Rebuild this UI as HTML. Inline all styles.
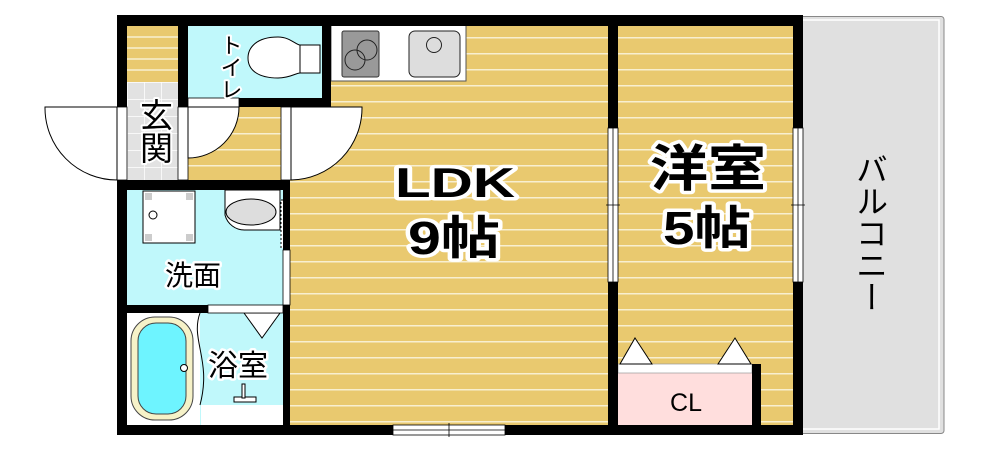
<!DOCTYPE html>
<html><head><meta charset="utf-8"><style>
html,body{margin:0;padding:0;background:#fff;width:987px;height:458px;overflow:hidden}
svg{display:block}
text{font-family:"Liberation Sans","Noto Sans CJK JP",sans-serif}
.h{paint-order:stroke;stroke:#fff;stroke-linejoin:round}
</style></head><body>
<svg width="987" height="458" viewBox="0 0 987 458" xmlns="http://www.w3.org/2000/svg">
<defs>
<pattern id="fl" width="10" height="16" patternUnits="userSpaceOnUse" y="5">
<rect width="10" height="16" fill="#e9c96f"/><rect y="0" width="10" height="1.5" fill="#f8efd0"/>
</pattern>
<pattern id="tile" width="17" height="17" patternUnits="userSpaceOnUse" x="127" y="82">
<rect width="17" height="17" fill="#e2e2e2"/><path d="M0 0H17M0 0V17" stroke="#fff" stroke-width="1.5"/>
</pattern>
</defs>
<rect x="798" y="16.5" width="146" height="417" rx="3" fill="#e0e0e0" stroke="#888" stroke-width="1"/>
<rect x="798" y="20" width="141" height="409" fill="#e0e0e0" stroke="#fff" stroke-width="1.5"/>
<rect x="288" y="20" width="510" height="410" fill="url(#fl)"/>
<rect x="185" y="100" width="110" height="85" fill="url(#fl)"/>
<rect x="127" y="25" width="51" height="57" fill="#e9c96f"/>
<path d="M127 37H178M127 48H178M127 59H178M127 70H178" stroke="#f8efd0" stroke-width="1.5"/>
<rect x="127" y="82" width="51" height="98" fill="url(#tile)"/>
<rect x="188" y="25" width="134" height="73" fill="#c0f8fb"/>
<path d="M278 37 C256 37 248 48 248 58 C248 70 258 78 278 78 C290 78 296 73 300 73 L300 45 C296 45 290 37 278 37Z" fill="#fff" stroke="#000" stroke-width="1"/>
<rect x="300" y="45" width="20" height="28" fill="#fff" stroke="#000" stroke-width="1"/>
<rect x="331" y="25" width="135" height="56" fill="#fff" stroke="#555" stroke-width="1"/>
<rect x="342" y="31" width="37" height="46" rx="2" fill="#999" stroke="#333"/>
<circle cx="367" cy="50" r="10" fill="none" stroke="#222"/>
<circle cx="355" cy="60" r="10" fill="none" stroke="#222"/>
<rect x="409" y="31" width="51" height="46" rx="6" fill="#ddd" stroke="#222"/>
<circle cx="434" cy="45" r="7.5" fill="none" stroke="#222"/>
<rect x="127" y="190" width="156" height="115" fill="#c0f8fb"/>
<rect x="143" y="191" width="52" height="52" fill="#fff" stroke="#000"/>
<rect x="145" y="193" width="7" height="7" fill="#ccc"/><rect x="186" y="193" width="7" height="7" fill="#ccc"/>
<rect x="145" y="234" width="7" height="7" fill="#ccc"/><rect x="186" y="234" width="7" height="7" fill="#ccc"/>
<circle cx="153" cy="215" r="4" fill="#fff" stroke="#000"/>
<path d="M225 190 V215 A20 20 0 0 0 245 230 H280 V190Z" fill="#fff" stroke="#000"/>
<ellipse cx="251" cy="212" rx="25" ry="13" fill="#ddd" stroke="#000"/>
<rect x="281" y="200" width="4" height="48" fill="#fff" stroke="#000" stroke-dasharray="2 2"/>
<rect x="127" y="313" width="156" height="112" fill="#c0f8fb"/>
<rect x="127" y="313" width="73" height="112" fill="#fff"/>
<rect x="201" y="405" width="82" height="20" fill="#fff"/>
<rect x="131" y="317" width="62" height="103" rx="24" fill="#f6f2c8" stroke="#444"/>
<rect x="138" y="323" width="48" height="91" rx="18" fill="#6ef4ff" stroke="#444"/>
<circle cx="184" cy="368" r="3.5" fill="#fff" stroke="#000"/>
<path d="M200 313 C190 340 212 360 200 405" fill="none" stroke="#000"/>
<path d="M244 313 L262 338 L280 313Z" fill="#fff" stroke="#000"/>
<rect x="234" y="397" width="22" height="5" fill="#fff" stroke="#000"/>
<rect x="242" y="384" width="3" height="14" fill="#fff" stroke="#000"/>
<rect x="618" y="373" width="134" height="52" fill="#ffdedd"/>
<rect x="618" y="364" width="134" height="9" fill="#fff" stroke="#999" stroke-width="0.7"/>
<path d="M620 364 L635 338 L652 364Z" fill="#fff" stroke="#000"/>
<path d="M718 364 L735 338 L751 364Z" fill="#fff" stroke="#000"/>
<g fill="#000">
<rect x="117" y="15" width="686" height="11"/>
<rect x="117" y="425" width="686" height="10"/>
<rect x="117" y="15" width="10" height="92"/>
<rect x="117" y="180" width="10" height="255"/>
<rect x="793" y="15" width="10" height="420"/>
<rect x="178" y="15" width="10" height="92"/>
<rect x="322" y="15" width="9" height="92"/>
<rect x="239" y="98" width="92" height="9"/>
<rect x="117" y="180" width="173" height="10"/>
<rect x="283" y="180" width="7" height="255"/>
<rect x="117" y="305" width="166" height="8"/>
<rect x="608" y="15" width="10" height="420"/>
<rect x="752" y="364" width="9" height="66"/>
</g>
<rect x="117" y="107" width="10" height="73" fill="#fff" stroke="#000" stroke-width="0.8"/>
<rect x="178" y="107" width="10" height="73" fill="#fff" stroke="#000" stroke-width="0.8"/>
<rect x="281" y="107" width="10" height="73" fill="#fff" stroke="#000" stroke-width="0.8"/>
<rect x="188" y="98" width="51" height="9" fill="#fff" stroke="#000" stroke-width="0.8"/>
<rect x="208" y="305" width="75" height="8" fill="#fff" stroke="#000" stroke-width="0.8"/>
<rect x="283" y="250" width="7" height="55" fill="#fff" stroke="#000" stroke-width="0.8"/>
<path d="M117 107 H45 A72 72 0 0 0 117 180Z" fill="#fff" stroke="#000"/>
<path d="M188 107 H239 A51 51 0 0 1 188 158Z" fill="#fff" stroke="#000"/>
<path d="M291 107 H362 A72 72 0 0 1 291 180Z" fill="#fff" stroke="#000"/>
<rect x="608" y="128" width="10" height="154" fill="#fff" stroke="#000" stroke-width="0.8"/>
<path d="M613 128V282M606 205H620" stroke="#000" stroke-width="0.8"/>
<rect x="793" y="128" width="10" height="154" fill="#fff" stroke="#000" stroke-width="0.8"/>
<path d="M798 128V282M791 205H805" stroke="#000" stroke-width="0.8"/>
<rect x="393" y="425" width="112" height="10" fill="#fff" stroke="#000" stroke-width="0.8"/>
<path d="M393 430H505M449 423V437" stroke="#000" stroke-width="0.8"/>
<text x="395" y="197" font-size="42" textLength="120" lengthAdjust="spacingAndGlyphs" class="h" stroke-width="7" font-weight="bold">LDK</text>
<text x="408" y="254" font-size="46" textLength="92" lengthAdjust="spacingAndGlyphs" class="h" stroke-width="7" font-weight="bold">9帖</text>
<text x="650" y="186" font-size="50" textLength="116" lengthAdjust="spacingAndGlyphs" class="h" stroke-width="7" font-weight="bold">洋室</text>
<text x="663" y="244" font-size="46" textLength="88" lengthAdjust="spacingAndGlyphs" class="h" stroke-width="7" font-weight="bold">5帖</text>
<text x="193" y="285" font-size="28" text-anchor="middle" class="h" stroke-width="5">洗面</text>
<text x="238" y="376" font-size="30" text-anchor="middle" class="h" stroke-width="5">浴室</text>
<text x="686" y="411" font-size="25" text-anchor="middle">CL</text>
<text x="154" y="98" font-size="33" class="h" stroke-width="4" style="writing-mode:vertical-rl">玄関</text>
<text x="230" y="34" font-size="22" class="h" stroke-width="4" style="writing-mode:vertical-rl">トイレ</text>
<text x="870" y="153" font-size="32" style="writing-mode:vertical-rl">バルコニー</text>
</svg>
</body></html>
